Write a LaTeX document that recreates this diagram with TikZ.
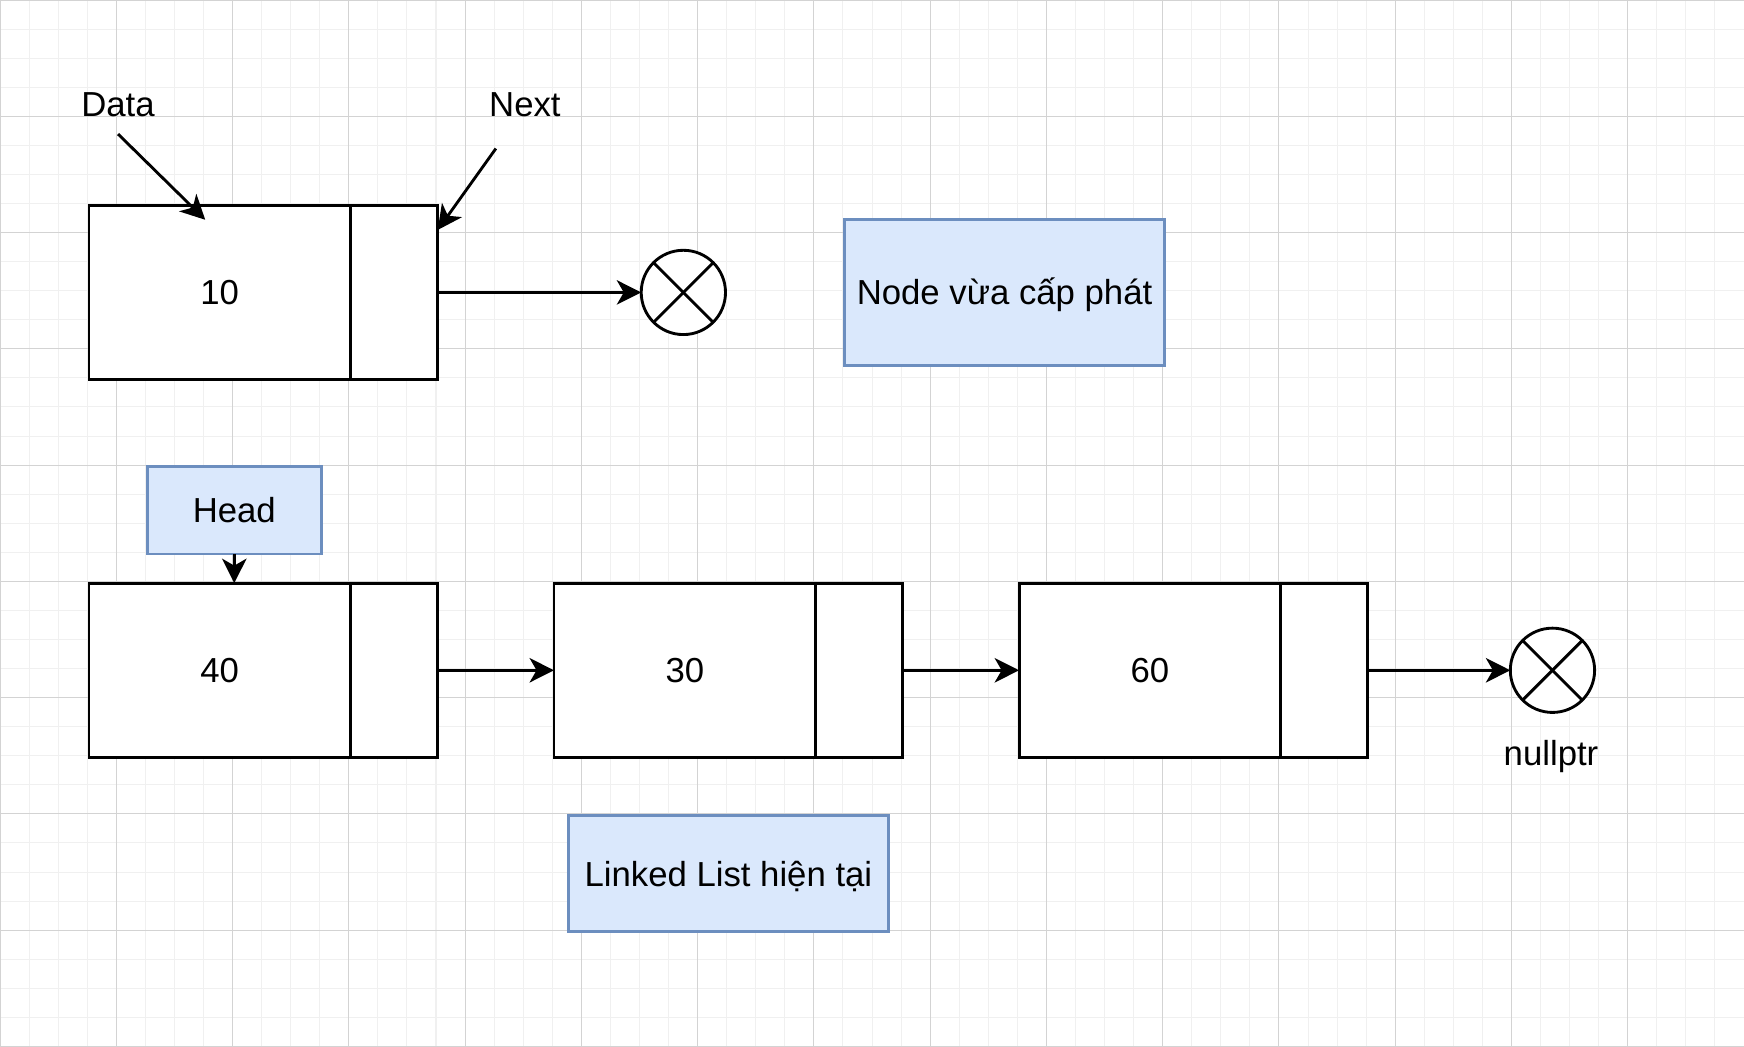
\documentclass[tikz,border=0pt]{standalone}
\usepackage{fontspec}
\setmainfont{Liberation Sans}
\usetikzlibrary{arrows.meta,positioning}
\definecolor{gridminor}{HTML}{F0F0F0}
\definecolor{gridmajor}{HTML}{D3D3D3}
\definecolor{notefill}{HTML}{DAE8FC}
\definecolor{notedraw}{HTML}{6C8EBF}

\begin{document}
\begin{tikzpicture}[x=0.5cm, y=-0.5cm,
    every node/.style={font=\fontsize{17}{20}\selectfont},
    datacell/.style={rectangle, draw, line width=1.4pt, fill=white,
        minimum width=4.5cm, minimum height=3cm, outer sep=0pt},
    nextcell/.style={rectangle, draw, line width=1.4pt, fill=white,
        minimum width=1.5cm, minimum height=3cm, outer sep=0pt},
    note/.style={rectangle, draw=notedraw, line width=1.4pt, fill=notefill,
        text height=15.6pt, text depth=3.4pt, align=center, outer sep=0pt},
    nullnode/.style={circle, draw, line width=1.4pt, fill=white,
        minimum size=1.45cm, inner sep=0pt, outer sep=0pt},
    link/.style={-{Stealth[length=4.2mm, width=4.2mm, inset=1.2mm]}, line width=1.4pt},
]
\useasboundingbox (0,0) rectangle (60,36);

% Background grid
\foreach \i in {0,...,60} \draw[gridminor, line width=0.5pt] (\i,0) -- (\i,36);
\foreach \j in {0,...,36} \draw[gridminor, line width=0.5pt] (0,\j) -- (60,\j);
\foreach \i in {0,4,...,60} \draw[gridmajor, line width=0.5pt] (\i,0) -- (\i,36);
\foreach \j in {0,4,...,36} \draw[gridmajor, line width=0.5pt] (0,\j) -- (60,\j);

\begin{scope}[shift={(0.06,0.06)}]

% New node
\node[datacell] (d10) at (7.5, 10) {10};
\node[nextcell] (n10) at (13.5, 10) {};
\node[nullnode] (null1) at (23.45, 10) {};
\draw[line width=1.4pt] (null1.north west) -- (null1.south east);
\draw[line width=1.4pt] (null1.north east) -- (null1.south west);
\draw[link] (n10.east) -- (null1.west);

\node[note, minimum width=5.5cm, minimum height=2.5cm] (newnote) at (34.5, 10) {Node vừa cấp phát};

% Labels
\node (lbldata) at (4.0, 3.55) {Data};
\node (lblnext) at (18.0, 3.55) {Next};
\coordinate (datafrom) at (4.0, 4.55);
\coordinate (datato) at (7.0, 7.5);
\coordinate (nextfrom) at (17.0, 5.05);
\coordinate (nextto) at (15.0, 7.85);
\draw[link] (datafrom) -- (datato);
\draw[link] (nextfrom) -- (nextto);

% Current linked list
\node[note, minimum width=3cm, minimum height=1.5cm] (head) at (8, 17.5) {Head};

\node[datacell] (d40) at (7.5, 23) {40};
\node[nextcell] (n40) at (13.5, 23) {};
\node[datacell] (d30) at (23.5, 23) {30};
\node[nextcell] (n30) at (29.5, 23) {};
\node[datacell] (d60) at (39.5, 23) {60};
\node[nextcell] (n60) at (45.5, 23) {};
\node[nullnode] (null2) at (53.35, 23) {};
\draw[line width=1.4pt] (null2.north west) -- (null2.south east);
\draw[line width=1.4pt] (null2.north east) -- (null2.south west);
\node (lblnull) at (53.3, 25.95) {nullptr};

\draw[link] (head.south) -- (head.south |- d40.north);
\draw[link] (n40.east) -- (d30.west);
\draw[link] (n30.east) -- (d60.west);
\draw[link] (n60.east) -- (null2.west);

\node[note, minimum width=5.5cm, minimum height=2cm] (listnote) at (25, 30) {Linked List hiện tại};

\end{scope}
\end{tikzpicture}
\end{document}
